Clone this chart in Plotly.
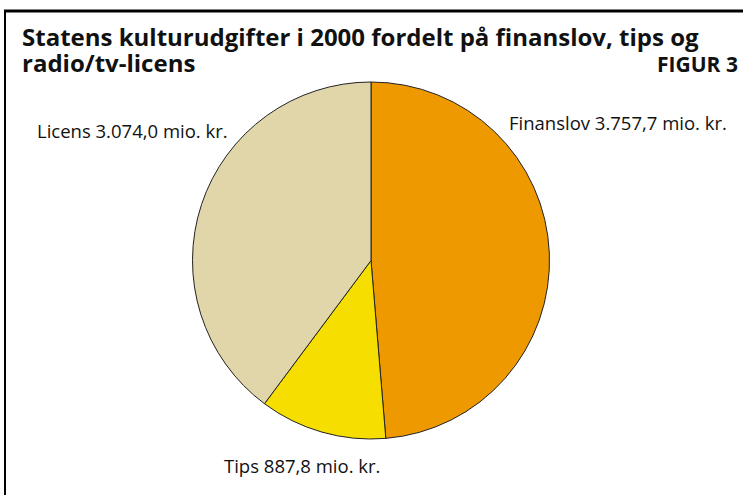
import plotly.graph_objects as go

categories = ["Finanslov", "Tips", "Licens"]
values = [3757.7, 887.8, 3074.0]
colors = ["#EE9900", "#F5DE00", "#E1D6AA"]
title_line1 = "Statens kulturudgifter i 2000 fordelt på finanslov, tips og"
title_line2 = "radio/tv-licens"
figure_tag = "FIGUR 3"

def dk(v):
    s = f"{v:,.1f}"
    return s.replace(",", "X").replace(".", ",").replace("X", ".")

labels = [f"{c} {dk(v)} mio. kr." for c, v in zip(categories, values)]

W, H = 743, 495
fig = go.Figure(go.Pie(
    labels=categories, values=values, sort=False, direction="clockwise",
    rotation=0, textinfo="none", hoverinfo="label+value",
    marker=dict(colors=colors, line=dict(color="#222222", width=1)),
    domain=dict(x=[192 / W, 550 / W], y=[1 - 439 / H, 1 - 82 / H]),
    showlegend=False,
))

FONT = "Open Sans"
lab_font = dict(family=FONT, size=18.5, color="#111111")
pos = {
    "Finanslov": (507, 122, "left"),
    "Tips": (302, 465, "center"),
    "Licens": (35, 131, "left"),
}
ann = []
for c, t in zip(categories, labels):
    x, y, a = pos[c]
    ann.append(dict(x=x / W, y=1 - y / H, xref="paper", yref="paper", text=t,
                    showarrow=False, xanchor=a, yanchor="middle", font=lab_font))

tfont = dict(family=FONT, size=24, color="#111111")
ann.append(dict(x=20 / W, y=1 - 36.5 / H, xref="paper", yref="paper", text=f"<b>{title_line1}</b>",
                showarrow=False, xanchor="left", yanchor="middle", font=tfont))
ann.append(dict(x=20 / W, y=1 - 62 / H, xref="paper", yref="paper", text=f"<b>{title_line2}</b>",
                showarrow=False, xanchor="left", yanchor="middle", font=tfont))
ann.append(dict(x=740 / W, y=1 - 64 / H, xref="paper", yref="paper", text=f"<b>{figure_tag}</b>",
                showarrow=False, xanchor="right", yanchor="middle",
                font=dict(family=FONT, size=21, color="#111111")))

shapes = [
    dict(type="line", xref="paper", yref="paper", x0=4 / W, x1=1, y0=1 - 11 / H, y1=1 - 11 / H,
         line=dict(color="black", width=3)),
    dict(type="line", xref="paper", yref="paper", x0=5 / W, x1=5 / W, y0=0, y1=1 - 10 / H,
         line=dict(color="black", width=2)),
]

fig.update_layout(width=W, height=H, margin=dict(l=0, r=0, t=0, b=0),
                  paper_bgcolor="white", plot_bgcolor="white",
                  annotations=ann, shapes=shapes)
fig.write_html("out.html", config={"displayModeBar": False},
               post_script="document.body.style.margin='0';document.body.style.overflow='hidden';")
